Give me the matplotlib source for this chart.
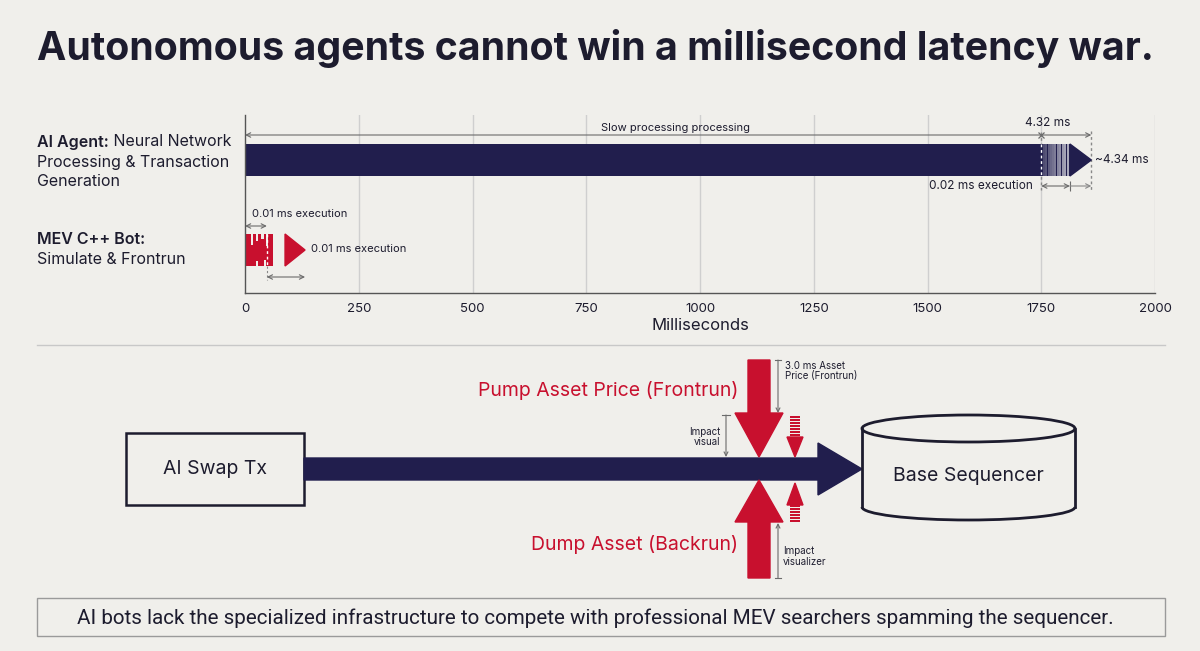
import matplotlib
matplotlib.use("Agg")
import matplotlib.pyplot as plt
from matplotlib.patches import Rectangle, Polygon, Arc
import numpy as np

# ---- data ----
tick_values = [0, 250, 500, 750, 1000, 1250, 1500, 1750, 2000]
agent_solid_ms = 1750
agent_stripe_ms = 1813
agent_tip_ms = 1860
agent_stripes = [1756, 1761, 1766, 1771, 1776, 1781, 1787, 1792, 1797, 1803, 1808]
bot_left = [0, 13, 17, 25, 29, 35, 41, 47, 51]
bot_width = [13, 4, 8, 4, 6, 6, 6, 4, 10]
bot_top = [234, 245, 234, 241, 234, 239, 234, 246, 234]
bot_bottom = [266, 266, 266, 261, 266, 266, 260, 266, 266]
bot_split_ms = 48
bot_tri = [88, 132]

title = "Autonomous agents cannot win a millisecond latency war."
footer = ("AI bots lack the specialized infrastructure to compete with "
          "professional MEV searchers spamming the sequencer.")

BG = "#f0efeb"
NAVY = "#211e4d"
RED = "#c8102e"
TXT = "#1d1c2e"
GRAY = "#6b6b6b"
plt.rcParams["font.family"] = ["Inter", "DejaVu Sans"]

fig = plt.figure(figsize=(12, 6.51), dpi=100, facecolor=BG)

# ---- timing chart (y in pixel rows) ----
W, H = 1200, 651
ax = fig.add_axes([245 / W, 1 - 293 / H, 910 / W, 178 / H])
ax.set_facecolor(BG)
ax.set_xlim(0, 2000)
ax.set_ylim(293, 115)
for s in ["top", "right"]:
    ax.spines[s].set_visible(False)
for s in ["left", "bottom"]:
    ax.spines[s].set_color("#555555")
    ax.spines[s].set_linewidth(1.0)
ax.set_yticks([])
ax.set_xticks(tick_values)
ax.tick_params(axis="x", length=0, pad=7, labelsize=9.5, labelcolor=TXT)
ax.set_xlabel("Milliseconds", fontsize=12, color=TXT, labelpad=2)
for t in tick_values[1:]:
    ax.axvline(t, color="#cfcfcf", lw=1, zorder=0)

# AI agent bar
ax.barh(160, agent_stripe_ms, height=32, left=0, color=NAVY, zorder=2)
ax.add_patch(Polygon([[agent_stripe_ms, 144], [agent_tip_ms, 160], [agent_stripe_ms, 176]],
                     closed=True, color=NAVY, zorder=2))
for i, s in enumerate(agent_stripes):
    ax.vlines(s, 144, 176, color="white", lw=1.2, alpha=0.25 + 0.05 * i, zorder=3)
ax.vlines(agent_solid_ms, 144, 176, color="white", lw=1, ls=(0, (2, 2)), zorder=4)
ax.vlines(agent_solid_ms, 132, 190, color="#888888", lw=1, ls=(0, (2, 2)), zorder=1)
ax.vlines(agent_tip_ms, 131, 192, color="#888888", lw=1, ls=(0, (2, 2)), zorder=1)

arr = dict(arrowstyle="<->", color=GRAY, lw=0.8, shrinkA=0, shrinkB=0, mutation_scale=8)
ax.annotate("", xy=(agent_tip_ms, 135), xytext=(0, 135), arrowprops=arr)
ax.plot([agent_solid_ms], [135], marker="x", ms=5, color=GRAY, mew=0.9)
ax.text(947, 128, "Slow processing processing", fontsize=8, color=TXT, ha="center", va="center")
ax.text(1765, 123, "4.32 ms", fontsize=8.5, color=TXT, ha="center", va="center")
ax.text(1868, 160, "~4.34 ms", fontsize=8.5, color=TXT, ha="left", va="center")
ax.annotate("", xy=(agent_stripe_ms, 186), xytext=(agent_solid_ms, 186), arrowprops=arr)
ax.annotate("", xy=(agent_tip_ms, 186), xytext=(agent_stripe_ms, 186),
            arrowprops=dict(arrowstyle="->", color="#888888", lw=0.8, shrinkA=0, shrinkB=0,
                            mutation_scale=8))
ax.vlines(agent_stripe_ms, 181, 191, color=GRAY, lw=0.8)
ax.text(1732, 186, "0.02 ms execution", fontsize=8.5, color=TXT, ha="right", va="center")

# MEV bot
for l, w, t, b in zip(bot_left, bot_width, bot_top, bot_bottom):
    ax.barh((t + b) / 2, w, height=b - t, left=l, color=RED, zorder=2)
ax.vlines(bot_split_ms, 234, 266, color="white", lw=1, ls=(0, (2, 2)), zorder=3)
ax.vlines(bot_split_ms, 266, 280, color="#888888", lw=0.8, ls=(0, (2, 2)), zorder=1)
ax.add_patch(Polygon([[bot_tri[0], 234], [bot_tri[1], 250], [bot_tri[0], 266]],
                     closed=True, color=RED, zorder=2))
ax.annotate("", xy=(bot_split_ms, 226), xytext=(0, 226), arrowprops=arr)
ax.annotate("", xy=(bot_tri[1], 277), xytext=(bot_split_ms, 277), arrowprops=arr)
ax.text(15, 214, "0.01 ms execution", fontsize=8, color=TXT, ha="left", va="center")
ax.text(145, 249, "0.01 ms execution", fontsize=8, color=TXT, ha="left", va="center")

# ---- overlay in pixel coordinates ----
ov = fig.add_axes([0, 0, 1, 1], zorder=5)
ov.set_xlim(0, W)
ov.set_ylim(H, 0)
ov.axis("off")
ov.patch.set_alpha(0)

ov.text(37, 48, title, fontsize=28.3, fontweight="bold", color=TXT, ha="left", va="center")

fig.canvas.draw()
rend = fig.canvas.get_renderer()


def rich(x, y, bold, rest, size):
    t = ov.text(x, y, bold, fontsize=size, fontweight="semibold", color=TXT, ha="left", va="center")
    bb = t.get_window_extent(renderer=rend)
    x2 = ov.transData.inverted().transform((bb.x1, 0))[0]
    ov.text(x2, y, " " + rest, fontsize=size, color=TXT, ha="left", va="center")


rich(37, 142, "AI Agent:", "Neural Network", 11.5)
ov.text(37, 162, "Processing & Transaction", fontsize=11.5, color=TXT, ha="left", va="center")
ov.text(37, 182, "Generation", fontsize=11.5, color=TXT, ha="left", va="center")
ov.text(37, 240, "MEV C++ Bot:", fontsize=11.5, fontweight="semibold", color=TXT,
        ha="left", va="center")
ov.text(37, 260, "Simulate & Frontrun", fontsize=11.5, color=TXT, ha="left", va="center")

ov.plot([37, 1165], [345, 345], color="#c8c8c8", lw=1)

# AI Swap Tx box and main arrow
ov.add_patch(Rectangle((126, 433), 178, 72, fill=False, ec=TXT, lw=1.8))
ov.text(215, 469, "AI Swap Tx", fontsize=14, color=TXT, ha="center", va="center")
ov.add_patch(Polygon([[304, 458], [818, 458], [818, 443], [862, 469], [818, 495], [818, 480],
                      [304, 480]], closed=True, color=NAVY))

# sequencer cylinder
cx, cw = 968.5, 213
ov.add_patch(Arc((cx, 428.5), cw, 27, theta1=0, theta2=360, color=TXT, lw=2))
ov.add_patch(Arc((cx, 507), cw, 26, theta1=0, theta2=180, color=TXT, lw=2))
ov.plot([cx - cw / 2, cx - cw / 2], [428.5, 507], color=TXT, lw=2)
ov.plot([cx + cw / 2, cx + cw / 2], [428.5, 507], color=TXT, lw=2)
ov.text(cx, 476, "Base Sequencer", fontsize=14, color=TXT, ha="center", va="center")

# red arrows
ov.add_patch(Polygon([[748, 360], [770, 360], [770, 413], [783, 413], [759, 457], [735, 413],
                      [748, 413]], closed=True, color=RED))
ov.add_patch(Polygon([[748, 578], [770, 578], [770, 522], [783, 522], [759, 480], [735, 522],
                      [748, 522]], closed=True, color=RED))
ov.add_patch(Polygon([[787, 437], [803, 437], [795, 457]], closed=True, color=RED))
ov.add_patch(Polygon([[787, 505], [803, 505], [795, 483]], closed=True, color=RED))
for yy in np.arange(416, 437, 3):
    ov.add_patch(Rectangle((790, yy), 10, 2, color=RED, lw=0))
for yy in np.arange(505, 522, 3):
    ov.add_patch(Rectangle((790, yy), 10, 2, color=RED, lw=0))

ov.text(738, 390, "Pump Asset Price (Frontrun)", fontsize=14, color=RED, ha="right", va="center")
ov.text(738, 545, "Dump Asset (Backrun)", fontsize=14, color=RED, ha="right", va="center")

dim = dict(arrowstyle="->", color=GRAY, lw=0.8, shrinkA=0, shrinkB=0, mutation_scale=7)
ov.annotate("", xy=(778, 413), xytext=(778, 360), arrowprops=dim)
ov.plot([775, 781], [360, 360], color=GRAY, lw=0.8)
ov.text(785, 366, "3.0 ms Asset", fontsize=7, color=TXT, ha="left", va="center")
ov.text(785, 376, "Price (Frontrun)", fontsize=7, color=TXT, ha="left", va="center")
ov.annotate("", xy=(726, 457), xytext=(726, 415), arrowprops=dim)
ov.plot([722, 730], [415, 415], color=GRAY, lw=0.8)
ov.text(720, 432, "Impact", fontsize=7, color=TXT, ha="right", va="center")
ov.text(720, 442, "visual", fontsize=7, color=TXT, ha="right", va="center")
ov.annotate("", xy=(778, 523), xytext=(778, 578), arrowprops=dim)
ov.plot([775, 781], [578, 578], color=GRAY, lw=0.8)
ov.text(783, 551, "Impact", fontsize=7, color=TXT, ha="left", va="center")
ov.text(783, 562, "visualizer", fontsize=7, color=TXT, ha="left", va="center")

# footer box
ov.add_patch(Rectangle((37, 598), 1128, 38, fill=False, ec="#9a9a9a", lw=1))
ov.text(595, 618, footer, fontsize=14.9, color=TXT, ha="center", va="center",
        family=["Liberation Sans Narrow", "Roboto", "DejaVu Sans"])

fig.savefig("out.png", dpi=100, facecolor=BG)
